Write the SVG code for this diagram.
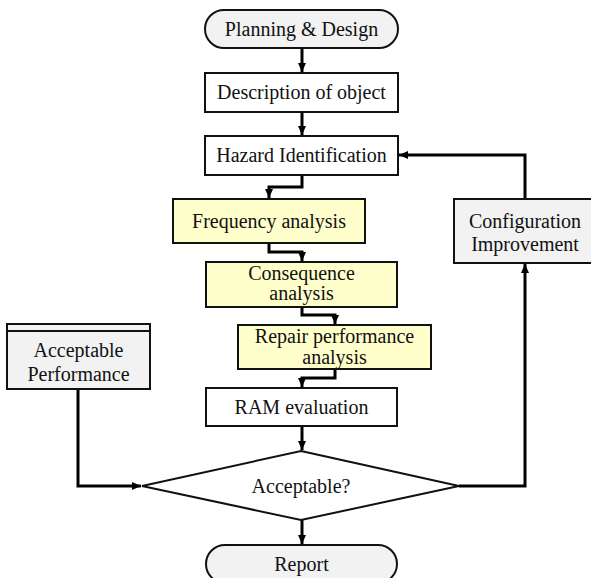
<svg xmlns="http://www.w3.org/2000/svg" width="591" height="578" viewBox="0 0 591 578">
<defs>
<style>
.box{stroke:#111;stroke-width:2;}
.w{fill:#fff;}
.g{fill:#f2f2f2;}
.y{fill:#ffffcc;}
.t{font-family:"Liberation Serif","Times New Roman",serif;font-size:20px;fill:#111;text-anchor:middle;}
.t2{font-size:19px;}
.c{fill:none;stroke:#000;stroke-width:3;stroke-linejoin:miter;}
</style>
<marker id="ah" markerUnits="userSpaceOnUse" markerWidth="10" markerHeight="10" refX="9" refY="4" orient="auto">
<path d="M0,0 L9,4 L0,8 Z" fill="#000"/>
</marker>
</defs>
<rect width="591" height="578" fill="#fff"/>

<g id="connectors">
<path class="c" d="M302,48 V72" marker-end="url(#ah)"/>
<path class="c" d="M302,112 V135" marker-end="url(#ah)"/>
<path class="c" d="M302,175 V187 H269 V198" marker-end="url(#ah)"/>
<path class="c" d="M269,243 V252 H302 V261" marker-end="url(#ah)"/>
<path class="c" d="M302,307 V315 H335 V324" marker-end="url(#ah)"/>
<path class="c" d="M335,369 V378 H302 V387" marker-end="url(#ah)"/>
<path class="c" d="M302,426 V450" marker-end="url(#ah)"/>
<path class="c" d="M302,520 V544" marker-end="url(#ah)"/>
<path class="c" d="M78,389 V486 H141" marker-end="url(#ah)"/>
<path class="c" d="M459,486 H525 V264" marker-end="url(#ah)"/>
<path class="c" d="M525,199 V155 H399" marker-end="url(#ah)"/>
</g>

<g id="planning">
<rect class="box g" x="205" y="10" width="193" height="38" rx="19" ry="19"/>
<text class="t" x="301.5" y="36">Planning &amp; Design</text>
</g>
<g id="description">
<rect class="box w" x="205" y="73" width="193" height="39"/>
<text class="t" x="301.5" y="99">Description of object</text>
</g>
<g id="hazard">
<rect class="box w" x="205" y="136" width="193" height="39"/>
<text class="t" x="301.5" y="162">Hazard Identification</text>
</g>
<g id="frequency">
<rect class="box y" x="173" y="199" width="192" height="44"/>
<text class="t" x="269" y="228">Frequency analysis</text>
</g>
<g id="consequence">
<rect class="box y" x="206" y="262" width="191" height="45"/>
<text class="t" x="301.5" y="280">Consequence</text>
<text class="t" x="301.5" y="300">analysis</text>
</g>
<g id="repair">
<rect class="box y" x="238" y="325" width="193" height="44"/>
<text class="t" x="334.5" y="343">Repair performance</text>
<text class="t" x="334.5" y="364">analysis</text>
</g>
<g id="ram">
<rect class="box w" x="206" y="388" width="191" height="38"/>
<text class="t" x="301.5" y="414">RAM evaluation</text>
</g>
<g id="decision">
<polygon class="box w" points="301,451 459,486 301,520 142,486"/>
<text class="t" x="301" y="493">Acceptable?</text>
</g>
<g id="report">
<rect class="box g" x="206" y="545" width="191" height="38" rx="19" ry="19"/>
<text class="t" x="301.5" y="571">Report</text>
</g>
<g id="acceptable-performance">
<rect class="box g" x="7" y="324" width="143" height="65"/>
<line x1="7" y1="331" x2="150" y2="331" stroke="#111" stroke-width="2"/>
<text class="t" x="78.5" y="357">Acceptable</text>
<text class="t" x="78.5" y="381">Performance</text>
</g>
<g id="configuration">
<rect class="box g" x="454" y="199" width="142" height="64"/>
<text class="t" x="525" y="228">Configuration</text>
<text class="t" x="525" y="251">Improvement</text>
</g>
</svg>
